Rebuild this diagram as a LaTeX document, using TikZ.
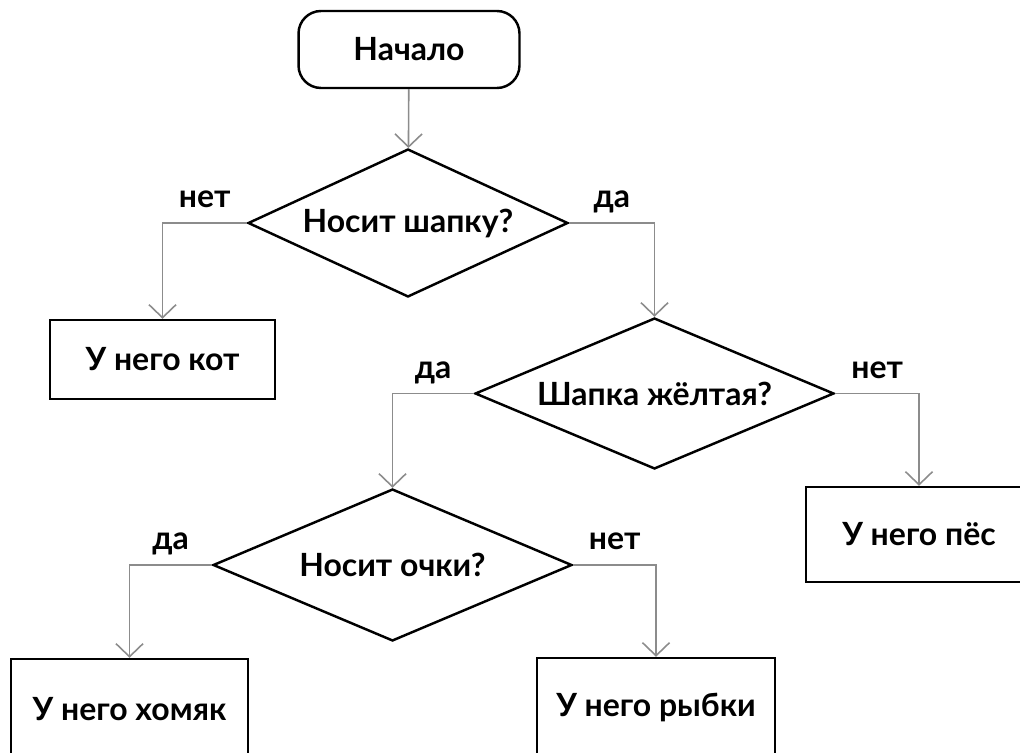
\documentclass[tikz,border=0pt]{standalone}
\usepackage{fontspec}
\setmainfont{Lato}
\usetikzlibrary{arrows.meta,shapes.geometric}

\begin{document}
\begin{tikzpicture}[
		x=0.02cm, y=-0.02cm,
		font=\fontsize{18.2}{22}\selectfont\bfseries,
		arrow/.style={draw=black!45, line width=0.9pt, -{Straight Barb[length=0.26cm, width=0.54cm]}},
		answer/.style={pos=0.25, anchor=base, yshift=0.31cm},
		startbox/.style={draw, line width=1.4pt, rounded corners=0.45cm, minimum width=4.42cm, minimum height=1.54cm},
		block/.style={draw, line width=1.4pt, inner sep=0pt},
		question/.style={diamond, draw, line width=1.4pt, inner sep=0pt, aspect=2.2},
	]
		\useasboundingbox (0,0) rectangle (1020,753);
		\clip (0,0) rectangle (1020,753);

		\path (409,49.5) node[startbox] (start) {Начало};
		\path (408,223) node[question, minimum width=6.4cm, minimum height=2.96cm] (hat) {Носит шапку?};
		\path (162.5,359.5) node[block, minimum width=4.5cm, minimum height=1.58cm] (cat) {У него кот};
		\path (654.5,393.5) node[question, minimum width=7.18cm, minimum height=3.02cm] (yellow) {Шапка жёлтая?};
		\path (919,534.5) node[block, minimum width=4.52cm, minimum height=1.9cm] (dog) {У него пёс};
		\path (392.5,565) node[question, minimum width=7.18cm, minimum height=3.04cm] (glasses) {Носит очки?};
		\path (129.5,709) node[block, minimum width=4.74cm, minimum height=2cm] (hamster) {У него хомяк};
		\path (656,708) node[block, minimum width=4.76cm, minimum height=2cm] (fish) {У него рыбки};

		% connectors
		\draw[arrow] (start) -- (hat);
		\draw[arrow] (hat.west) -| node[answer]{нет} (cat.north);
		\draw[arrow] (hat.east) -| node[answer]{да} (yellow.north);
		\draw[arrow] (yellow.west) -| node[answer]{да} (glasses.north);
		\draw[arrow] (yellow.east) -| node[answer]{нет} (dog.north);
		\draw[arrow] (glasses.west) -| node[answer]{да} (hamster.north);
		\draw[arrow] (glasses.east) -| node[answer]{нет} (fish.north);
	\end{tikzpicture}
\end{document}
